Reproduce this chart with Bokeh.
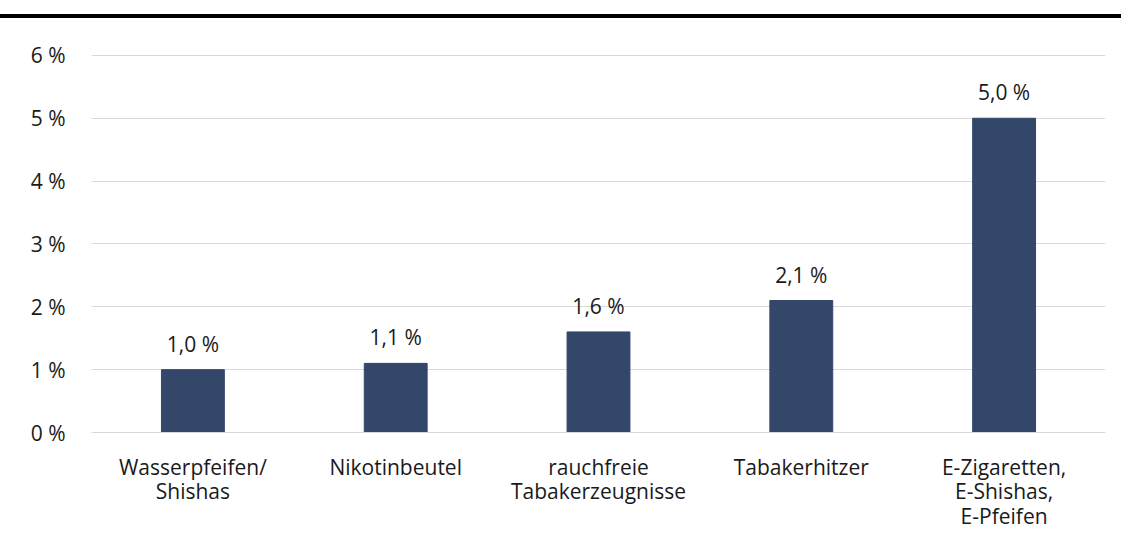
from bokeh.plotting import figure
from bokeh.models import ColumnDataSource, FixedTicker, Range1d, Div
from bokeh.layouts import column
from bokeh.core.properties import value
from bokeh.embed import file_html
from bokeh.resources import INLINE

categories = ["Wasserpfeifen/\nShishas", "Nikotinbeutel", "rauchfreie\nTabakerzeugnisse",
              "Tabakerhitzer", "E-Zigaretten,\nE-Shishas,\nE-Pfeifen"]
values = [1.0, 1.1, 1.6, 2.1, 5.0]
value_labels = ["1,0 %", "1,1 %", "1,6 %", "2,1 %", "5,0 %"]
y_ticks = [0, 1, 2, 3, 4, 5, 6]
y_tick_labels = ["0 %", "1 %", "2 %", "3 %", "4 %", "5 %", "6 %"]

FONT = "Open Sans"
FS = "21px"
TXT = "#1a1a1a"
BAR = "#33476B"

src = ColumnDataSource(dict(cat=categories, val=values, lab=value_labels))

top = Div(width=1121, height=18, styles={"border-bottom": "4px solid black", "margin": "0"})

p = figure(x_range=categories, y_range=Range1d(0, 6.03), width=1113, height=515,
           output_backend="svg", toolbar_location=None,
           min_border_left=91, min_border_right=8, min_border_top=35, min_border_bottom=101)
p.outline_line_color = None
p.background_fill_color = "white"
p.border_fill_color = "white"

p.vbar(x="cat", top="val", width=0.31, source=src, color=BAR)
p.text(x="cat", y="val", text="lab", source=src, text_align="center", text_baseline="bottom",
       y_offset=-12, text_font=value(FONT), text_font_size=FS, text_color=TXT)

p.yaxis.ticker = FixedTicker(ticks=y_ticks)
p.yaxis.major_label_overrides = {t: l for t, l in zip(y_ticks, y_tick_labels)}
p.yaxis.axis_line_color = None
p.yaxis.major_tick_line_color = None
p.yaxis.minor_tick_line_color = None
p.yaxis.major_label_standoff = 20
p.yaxis.major_label_text_font = FONT
p.yaxis.major_label_text_font_size = FS
p.yaxis.major_label_text_color = TXT

p.xaxis.axis_line_color = "#D9D9D9"
p.xaxis.major_tick_line_color = None
p.xaxis.minor_tick_line_color = None
p.xaxis.major_label_standoff = 14
p.xaxis.major_label_text_font = FONT
p.xaxis.major_label_text_font_size = FS
p.xaxis.major_label_text_color = TXT
p.xaxis.major_label_text_line_height = 0.88

p.xgrid.grid_line_color = None
p.ygrid.grid_line_color = "#D9D9D9"

layout = column(top, p, spacing=0)
open("out.html", "w").write(file_html(layout, INLINE))
